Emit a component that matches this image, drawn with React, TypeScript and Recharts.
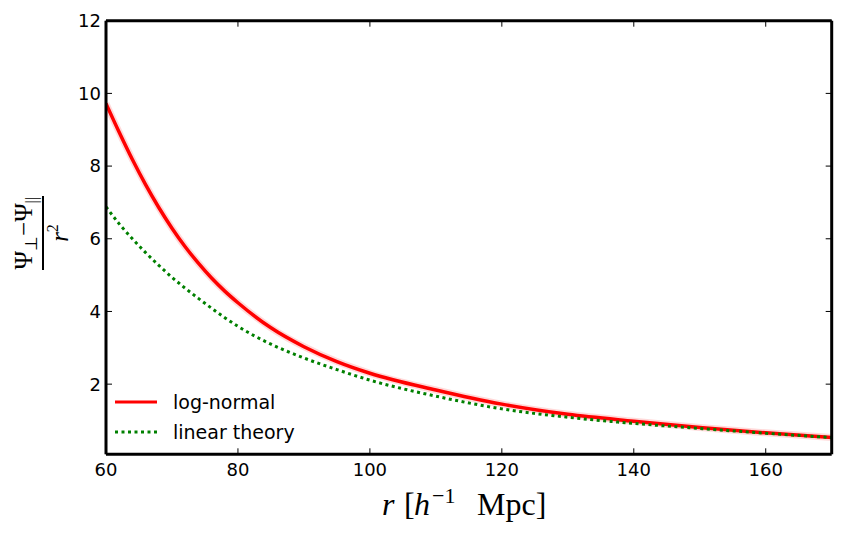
import { LineChart, Line, XAxis, YAxis, Legend } from "recharts";

// values
const R_VALUES = [60, 62, 64, 66, 68, 70, 72, 74, 76, 78, 80, 85, 90, 95, 100, 110, 120, 130, 140, 150, 160, 170];
const LOG_NORMAL = [9.72, 8.93, 8.18, 7.49, 6.86, 6.29, 5.78, 5.33, 4.92, 4.56, 4.24, 3.55, 3.03, 2.62, 2.3, 1.84, 1.45, 1.17, 0.98, 0.81, 0.66, 0.53];
const LINEAR_THEORY = [6.88, 6.41, 6.0, 5.62, 5.27, 4.94, 4.64, 4.36, 4.09, 3.83, 3.59, 3.1, 2.72, 2.4, 2.11, 1.67, 1.32, 1.09, 0.92, 0.78, 0.65, 0.53];

const X_TICKS = [60, 80, 100, 120, 140, 160];
const Y_TICKS = [2, 4, 6, 8, 10, 12];
const X_DOMAIN: [number, number] = [60, 170];
const Y_DOMAIN: [number, number] = [0.07, 12];

const data = R_VALUES.map((r, i) => ({ r, logNormal: LOG_NORMAL[i], linear: LINEAR_THEORY[i] }));

const FONT = "DejaVu Sans";
const SERIF = "Liberation Serif";
const LEGEND_ORDER = ["logNormal", "linear"];
const DASH: Record<string, string | undefined> = { logNormal: undefined, linear: "3 3.5" };
const blank = () => "";

function renderLegend(props: any) {
  const items = (props.payload || [])
    .filter((p: any) => p.type !== "none")
    .sort((a: any, b: any) => LEGEND_ORDER.indexOf(a.dataKey) - LEGEND_ORDER.indexOf(b.dataKey));
  return (
    <svg width={220} height={62} style={{ display: "block" }}>
      {items.map((p: any, i: number) => (
        <g key={p.value} transform={`translate(0, ${i * 30})`}>
          <line x1={2} x2={44} y1={12} y2={12} stroke={p.color} strokeWidth={3}
                strokeDasharray={DASH[p.dataKey]} />
          <text x={60} y={12} dy="0.35em" fontSize={19} fontFamily={FONT} fill="#000">{p.value}</text>
        </g>
      ))}
    </svg>
  );
}

export default function App() {
  const tickStyle = { fontSize: 18, fontFamily: FONT, fill: "#000" };
  const frame = { stroke: "#000", strokeWidth: 3 };
  const inner = { stroke: "#000", strokeWidth: 1 };

  return (
    <div style={{ position: "absolute", left: 0, top: 0, width: 842, height: 538, background: "#fff" }}>
      <LineChart width={842} height={538} data={data}
                 margin={{ top: 20.7, right: 10.3, bottom: 23.7, left: 46 }}>
        {/* labelled outer axes */}
        <XAxis xAxisId="x" dataKey="r" type="number" domain={X_DOMAIN} ticks={X_TICKS}
               allowDataOverflow height={60} tickLine={false} tickSize={0} tickMargin={9}
               axisLine={frame} tick={tickStyle} />
        <YAxis yAxisId="y" type="number" domain={Y_DOMAIN} ticks={Y_TICKS}
               allowDataOverflow width={60} tickLine={false} tickSize={0} tickMargin={5}
               axisLine={frame} tick={tickStyle} />
        {/* inward tick marks, all four sides */}
        <XAxis xAxisId="xin" dataKey="r" type="number" domain={X_DOMAIN} ticks={X_TICKS}
               allowDataOverflow mirror tickSize={6} tickLine={inner} axisLine={false}
               tickFormatter={blank} />
        <XAxis xAxisId="xtop" orientation="top" dataKey="r" type="number" domain={X_DOMAIN}
               ticks={X_TICKS} allowDataOverflow mirror tickSize={6} tickLine={inner}
               axisLine={frame} tickFormatter={blank} />
        <YAxis yAxisId="yin" type="number" domain={Y_DOMAIN} ticks={Y_TICKS}
               allowDataOverflow mirror tickSize={6} tickLine={inner} axisLine={false}
               tickFormatter={blank} />
        <YAxis yAxisId="yright" orientation="right" type="number" domain={Y_DOMAIN} ticks={Y_TICKS}
               allowDataOverflow mirror tickSize={6} tickLine={inner} axisLine={frame}
               tickFormatter={blank} />

        {/* faint band around the log-normal curve */}
        <Line xAxisId="x" yAxisId="y" dataKey="logNormal" type="monotone" stroke="#ff0000"
              strokeOpacity={0.15} strokeWidth={7} dot={false} activeDot={false}
              legendType="none" isAnimationActive={false} />
        <Line xAxisId="x" yAxisId="y" dataKey="logNormal" name="log-normal" type="monotone"
              stroke="#ff0000" strokeWidth={3.5} dot={false} activeDot={false}
              isAnimationActive={false} />
        <Line xAxisId="x" yAxisId="y" dataKey="linear" name="linear theory" type="monotone"
              stroke="#008000" strokeWidth={3} strokeDasharray={DASH.linear} dot={false}
              activeDot={false} isAnimationActive={false} />

        <Legend layout="vertical" align="center" verticalAlign="middle" content={renderLegend}
                wrapperStyle={{ position: "absolute", left: 113, top: 390, width: 220 }} />
      </LineChart>

      <svg width={842} height={538} style={{ position: "absolute", left: 0, top: 0, pointerEvents: "none" }}>
        {/* y label: (Ψ⊥ − Ψ||) / r² */}
        <g transform="translate(43, 233) rotate(-90)" fontFamily={SERIF} fill="#000">
          <line x1={-37} x2={37} y1={0} y2={0} stroke="#000" strokeWidth={2} />
          <text x={0} y={-11} textAnchor="middle" fontSize={25}>
            Ψ<tspan fontSize={17} dy={5}>⊥</tspan>
            <tspan dy={-5}>−Ψ</tspan>
            <tspan fontSize={17} dy={5}>||</tspan>
          </text>
          <text x={0} y={25} textAnchor="middle" fontSize={25}>
            <tspan fontStyle="italic">r</tspan>
            <tspan fontSize={16} dy={-10}>2</tspan>
          </text>
        </g>
        {/* x label: r [h^-1 Mpc] */}
        <text y={515} fontFamily={SERIF} fontSize={32} fill="#000">
          <tspan x={382} fontStyle="italic">r</tspan>
          <tspan x={404}>[</tspan>
          <tspan x={414} fontStyle="italic">h</tspan>
          <tspan x={432} fontSize={22} dy={-12}>−1</tspan>
          <tspan x={477} dy={12}>Mpc]</tspan>
        </text>
      </svg>
    </div>
  );
}
